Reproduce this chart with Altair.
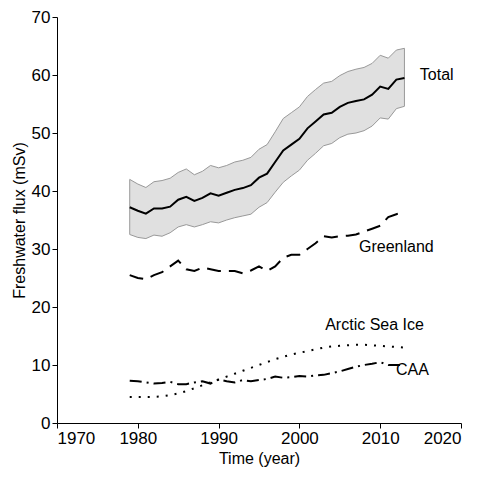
import altair as alt
import pandas as pd

years = list(range(1979, 2014))
total = [37.2,36.6,36.1,37.0,37.0,37.3,38.5,39.0,38.3,38.8,39.6,39.2,39.7,40.2,40.5,41.0,42.3,43.0,45.0,47.0,48.0,49.0,50.8,52.0,53.2,53.5,54.5,55.2,55.5,55.8,56.6,58.0,57.6,59.2,59.5]
total_lo = [32.5,32.0,31.8,32.4,32.2,32.8,33.8,34.2,33.8,34.2,34.7,34.5,35.0,35.4,35.7,36.0,37.2,38.0,39.8,41.5,42.6,43.6,45.3,46.5,47.8,48.2,49.2,49.8,50.0,50.4,51.2,52.6,52.4,54.2,54.6]
total_hi = [42.0,41.2,40.6,41.6,41.8,42.2,43.2,43.8,42.8,43.4,44.4,44.0,44.4,45.0,45.3,45.8,47.2,48.0,50.2,52.5,53.5,54.5,56.3,57.5,58.6,58.9,59.9,60.6,61.0,61.3,62.0,63.4,62.9,64.3,64.6]
greenland = [25.5,25.0,24.8,25.5,26.0,27.0,28.0,26.5,26.2,26.8,26.5,26.2,26.2,26.2,25.8,26.3,27.0,26.2,27.0,28.5,29.0,29.0,30.0,31.0,32.2,32.0,32.2,32.3,32.5,33.0,33.5,34.0,35.5,36.0,36.5]
caa = [7.3,7.2,7.0,6.8,6.9,7.1,6.7,6.7,7.0,7.2,6.8,7.5,7.2,7.0,7.4,7.2,7.4,7.6,8.0,7.8,7.9,8.1,8.0,8.2,8.3,8.6,8.9,9.3,9.7,10.0,10.2,10.5,10.0,10.0,10.0]
seaice = [4.5,4.5,4.5,4.5,4.6,4.8,5.1,5.5,6.0,6.5,7.0,7.5,8.0,8.5,9.0,9.5,10.0,10.5,11.0,11.4,11.8,12.1,12.4,12.7,13.0,13.2,13.3,13.4,13.5,13.5,13.4,13.3,13.2,13.1,13.0]

label_text = ["Total", "Greenland", "Arctic Sea Ice", "CAA"]
label_x = [2017, 2012, 2009.3, 2014]
label_y = [60, 30.3, 16.9, 9.1]

df = pd.DataFrame({"year": years, "total": total, "lo": total_lo, "hi": total_hi,
                   "greenland": greenland, "caa": caa, "seaice": seaice})
lab = pd.DataFrame({"t": label_text, "x": label_x, "y": label_y})

X = alt.X("year:Q", scale=alt.Scale(domain=[1970, 2020]),
          axis=alt.Axis(title="Time (year)", values=[1970,1980,1990,2000,2010,2020], format="d"))
yax = alt.Axis(title="Freshwater flux (mSv)", values=list(range(0, 71, 10)))
ysc = alt.Scale(domain=[0, 70])

base = alt.Chart(df)
band = base.mark_area(color="#e0e0e0", stroke="#999999", strokeWidth=1).encode(
    x=X, y=alt.Y("lo:Q", scale=ysc, axis=yax), y2="hi:Q")
tot = base.mark_line(color="black", strokeWidth=2).encode(x=X, y=alt.Y("total:Q", scale=ysc, axis=yax))
gl = base.mark_line(color="black", strokeWidth=2, strokeDash=[14, 8]).encode(x=X, y="greenland:Q")
ca = base.mark_line(color="black", strokeWidth=2, strokeDash=[12, 5, 2, 5]).encode(x=X, y="caa:Q")
si = base.mark_line(color="black", strokeWidth=2, strokeDash=[2, 7]).encode(x=X, y="seaice:Q")
txt = alt.Chart(lab).mark_text(fontSize=16, font="Liberation Sans", color="black").encode(
    x="x:Q", y="y:Q", text="t:N")

chart = alt.layer(band, tot, gl, ca, si, txt).properties(
    width=404, height=406,
    autosize=alt.AutoSizeParams(type="none"),
    padding={"left": 49, "top": 9, "right": 12, "bottom": 50},
).configure_view(stroke=None).configure_axis(
    grid=False, domainColor="black", tickColor="black", labelColor="black", titleColor="black",
    labelFont="Liberation Sans", titleFont="Liberation Sans", labelFontSize=17, titleFontSize=16,
    titleFontWeight="normal", tickSize=5, labelPadding=2)

chart.save("out.html", embed_options={"renderer": "svg", "actions": False})
